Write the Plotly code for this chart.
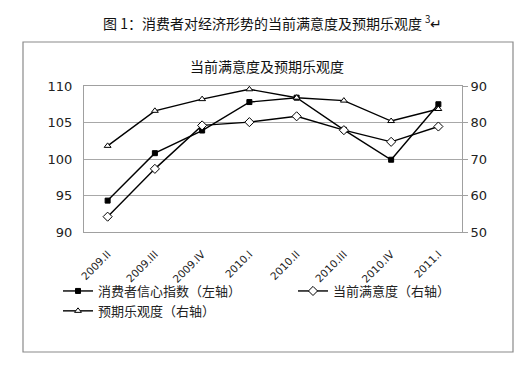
import plotly.graph_objects as go

categories = ["2009.II", "2009.III", "2009.IV", "2010.I", "2010.II", "2010.III", "2010.IV", "2011.I"]
confidence_index = [94.3, 100.8, 103.9, 107.8, 108.4, 104.0, 99.9, 107.5]
current_satisfaction = [54.2, 67.3, 79.2, 80.1, 81.7, 77.9, 74.7, 78.9]
expected_optimism = [73.6, 83.2, 86.4, 89.1, 86.8, 86.0, 80.4, 83.7]

left_ticks = [90, 95, 100, 105, 110]
right_ticks = [50, 60, 70, 80, 90]

CJK = "Noto Sans CJK SC"
NUM = "DejaVu Sans"

W, H = 527, 366
L, R, T, B = 84, 462, 86, 232

def px(x):
    return (x - L) / (R - L)

def py(y):
    return (B - y) / (B - T)

fig = go.Figure()
fig.add_trace(go.Scatter(
    x=categories, y=confidence_index, name="消费者信心指数（左轴）",
    mode="lines+markers", line=dict(color="black", width=1.4),
    marker=dict(symbol="square", size=5, color="black", line=dict(color="black", width=1)),
    legend="legend",
))
fig.add_trace(go.Scatter(
    x=categories, y=current_satisfaction, name="当前满意度（右轴）", yaxis="y2",
    mode="lines+markers", line=dict(color="black", width=1.4),
    marker=dict(symbol="diamond", size=7, color="white", line=dict(color="black", width=1)),
    legend="legend2",
))
fig.add_trace(go.Scatter(
    x=categories, y=expected_optimism, name="预期乐观度（右轴）", yaxis="y2",
    mode="lines+markers", line=dict(color="black", width=1.4),
    marker=dict(symbol="triangle-up", size=6, color="white", line=dict(color="black", width=1)),
    legend="legend",
))

legend_common = dict(
    orientation="v", yanchor="top", xanchor="left",
    font=dict(family=CJK, size=13, color="#222"),
    bgcolor="rgba(0,0,0,0)", itemwidth=30, tracegroupgap=0,
)

fig.update_layout(
    width=W, height=H,
    margin=dict(l=L, r=W - R, t=T, b=H - B),
    paper_bgcolor="white", plot_bgcolor="white",
    font=dict(family=f"{NUM}, {CJK}", color="#222", size=13),
    xaxis=dict(
        type="category", tickangle=-45, showgrid=False, showline=True,
        linecolor="#a0a0a0", linewidth=1, mirror=True,
        ticks="outside", ticklen=11, tickcolor="rgba(0,0,0,0)",
        tickfont=dict(size=10.5, family=NUM, color="#222"),
        range=[-0.5, len(categories) - 0.5], fixedrange=True,
    ),
    yaxis=dict(
        range=[90, 110], tickvals=left_ticks, showgrid=True, gridcolor="#a8a8a8",
        gridwidth=1, showline=True, linecolor="#a0a0a0", linewidth=1, ticks="",
        tickfont=dict(size=13, family=NUM, color="#222"), zeroline=False,
        ticklabelstandoff=8,
    ),
    yaxis2=dict(
        range=[50, 90], tickvals=right_ticks, overlaying="y", side="right",
        showgrid=False, showline=True, linecolor="#a0a0a0", linewidth=1,
        ticks="outside", ticklen=5, tickcolor="#a0a0a0",
        tickfont=dict(size=13, family=NUM, color="#222"), zeroline=False,
    ),
    legend=dict(x=px(58), y=py(276), **legend_common),
    legend2=dict(x=px(293), y=py(276), **legend_common),
    showlegend=True,
)

fig.add_shape(type="rect", xref="paper", yref="paper",
              x0=px(23), x1=px(513), y0=py(352), y1=py(42),
              line=dict(color="#8a8a8a", width=1.2), layer="below")

fig.add_annotation(text="当前满意度及预期乐观度", xref="paper", yref="paper",
                   x=px(267), y=py(66), yanchor="middle", showarrow=False,
                   font=dict(family=CJK, size=14, color="#111"))
fig.add_annotation(text="图 1：消费者对经济形势的当前满意度及预期乐观度 <sup>3</sup>↵",
                   xref="paper", yref="paper", x=px(272), y=py(22), yanchor="middle",
                   showarrow=False,
                   font=dict(family=CJK, size=14, color="#111"))

fig.write_html("out.html", config={"displayModeBar": False},
               post_script="document.body.style.margin='0';")
